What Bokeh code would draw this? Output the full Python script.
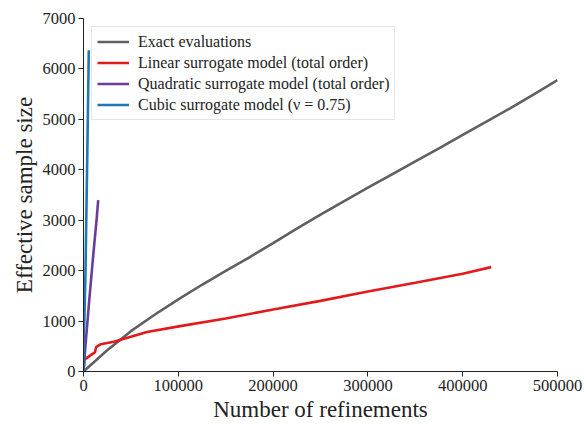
from bokeh.plotting import figure
from bokeh.models import FixedTicker, BasicTickFormatter, Legend, LegendItem
from bokeh.embed import file_html
from bokeh.resources import INLINE

# Exact evaluations
exact_x = [0, 25000, 50000, 75000, 100000, 125000, 150000, 175000, 200000,
           225000, 250000, 275000, 300000, 325000, 350000, 375000, 400000, 425000,
           450000, 475000, 500000]
exact_y = [0, 420, 800, 1125, 1430, 1720, 1995, 2265, 2545,
           2835, 3110, 3380, 3645, 3905, 4165, 4425, 4690, 4955,
           5220, 5495, 5780]
# Linear surrogate model
lin_x = [0, 1000, 3000, 8000, 12000, 13500, 18000, 32000, 67000, 102000, 150000, 200000,
         250000, 300000, 350000, 400000, 430000]
lin_y = [0, 240, 260, 330, 380, 490, 540, 590, 785, 900, 1050, 1230,
         1400, 1585, 1760, 1940, 2070]
# Quadratic surrogate model
quad_x = [0, 2000, 6000, 10000, 14000, 15500]
quad_y = [0, 500, 1400, 2250, 3050, 3400]
# Cubic surrogate model
cub_x = [0, 300, 1000, 2100, 4000, 5600]
cub_y = [0, 600, 1100, 2000, 4300, 6370]

labels = ["Exact evaluations", "Linear surrogate model (total order)",
          "Quadratic surrogate model (total order)", "Cubic surrogate model (\u03bd = 0.75)"]
colors = ["#606060", "#e31a1c", "#6a3d9a", "#1f78b4"]
x_ticks = [0, 100000, 200000, 300000, 400000, 500000]
y_ticks = [0, 1000, 2000, 3000, 4000, 5000, 6000, 7000]

FONT = "'Liberation Serif', serif"

p = figure(width=587, height=424, output_backend="svg", toolbar_location=None,
           x_range=(0, 500000), y_range=(0, 7000),
           min_border_left=83, min_border_right=30, min_border_top=18, min_border_bottom=50)
p.outline_line_color = None
p.xgrid.visible = False
p.ygrid.visible = False
p.background_fill_color = "white"

renderers = []
for xs, ys, c in [(exact_x, exact_y, colors[0]), (lin_x, lin_y, colors[1]),
                  (quad_x, quad_y, colors[2]), (cub_x, cub_y, colors[3])]:
    r = p.line(xs, ys, line_color=c, line_width=2.6)
    renderers.append(r)

for ax in (p.xaxis[0], p.yaxis[0]):
    ax.major_label_text_font = FONT
    ax.major_label_text_font_size = "16.5px"
    ax.major_label_text_color = "#222222"
    ax.axis_label_text_font = FONT
    ax.axis_label_text_font_size = "23px"
    ax.axis_label_text_font_style = "normal"
    ax.axis_label_text_color = "#222222"
    ax.major_tick_in = 0
    ax.major_tick_out = 5
    ax.minor_tick_out = 0
    ax.minor_tick_in = 0
    ax.major_label_standoff = 3
    ax.axis_line_color = "#222222"
    ax.major_tick_line_color = "#222222"
    ax.axis_label_standoff = 3

p.xaxis[0].ticker = FixedTicker(ticks=x_ticks)
p.yaxis[0].ticker = FixedTicker(ticks=y_ticks)
p.xaxis[0].formatter = BasicTickFormatter(use_scientific=False)
p.yaxis[0].formatter = BasicTickFormatter(use_scientific=False)
p.xaxis[0].axis_label = "Number of refinements"
p.yaxis[0].axis_label = "Effective sample size"

legend = Legend(items=[LegendItem(label=l, renderers=[r]) for l, r in zip(labels, renderers)],
                location="top_left")
legend.label_text_font = FONT
legend.label_text_font_size = "16px"
legend.label_text_color = "#222222"
legend.label_standoff = 9
legend.label_height = 18
legend.glyph_width = 32
legend.glyph_height = 19
legend.spacing = 2
legend.padding = 5
legend.margin = 8
legend.border_line_color = "#cccccc"
legend.background_fill_alpha = 0.9
p.add_layout(legend)

open("out.html", "w").write(file_html(p, INLINE))
